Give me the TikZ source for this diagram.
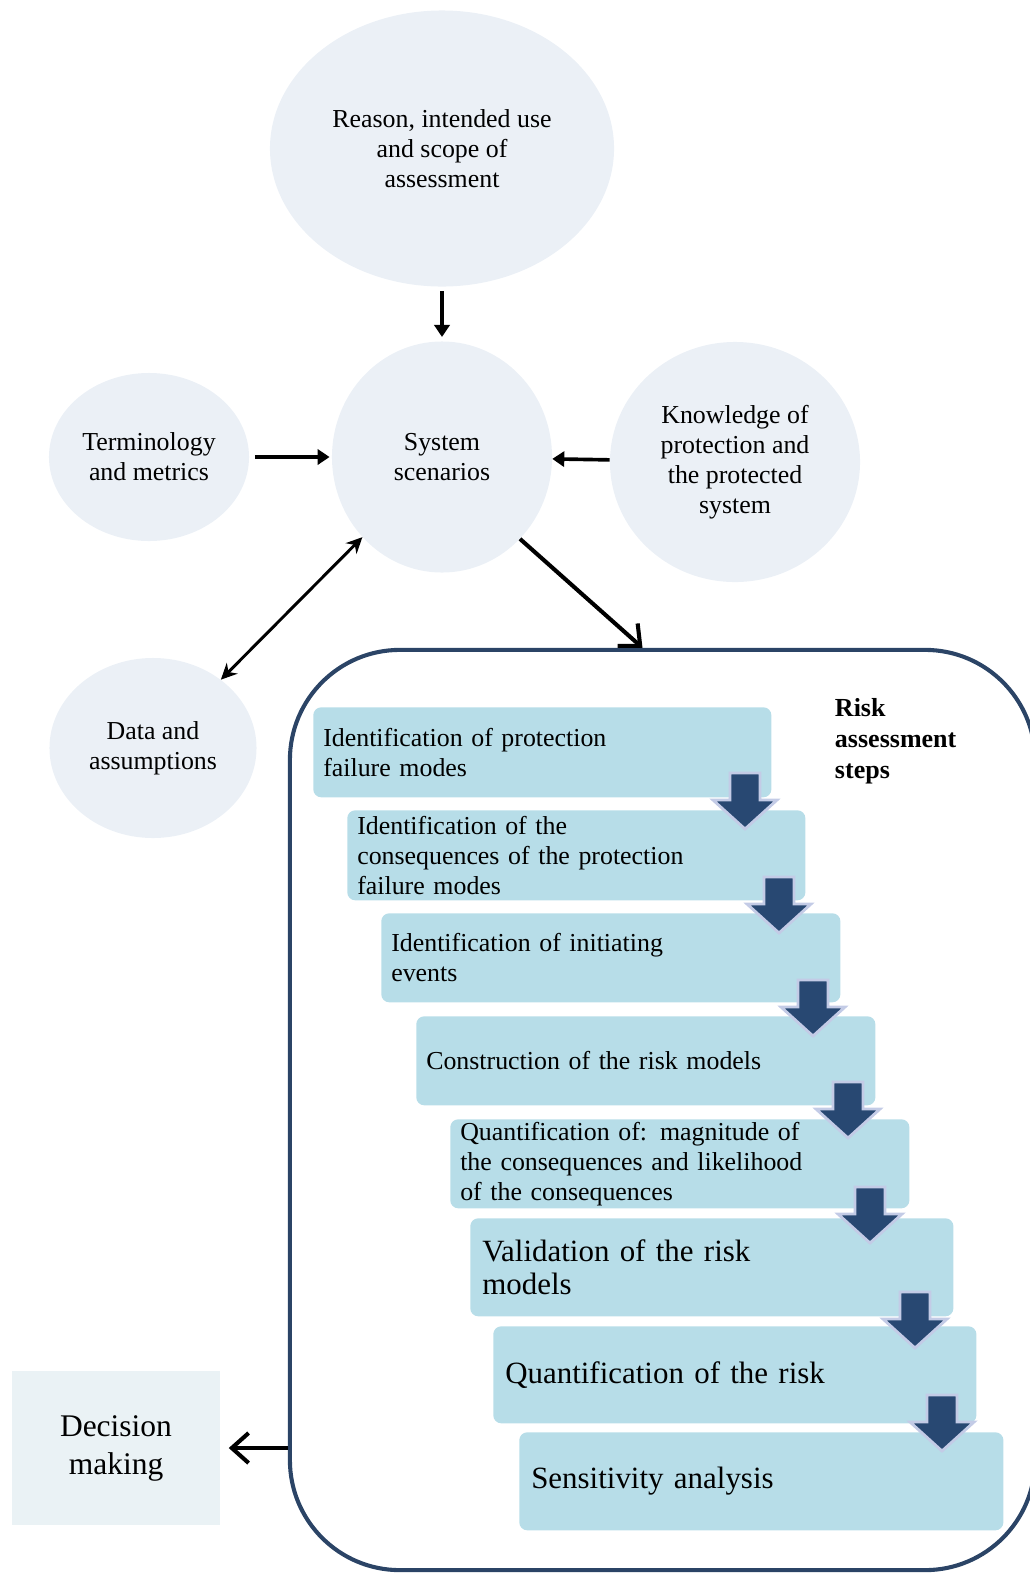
\documentclass[tikz,border=0pt]{standalone}
\usepackage{fontspec}
\setmainfont{Liberation Serif}
\usetikzlibrary{shapes.geometric,arrows.meta,calc}

\definecolor{bubblefill}{HTML}{EBF0F6}
\definecolor{decisionfill}{HTML}{EAF2F5}
\definecolor{stepfill}{HTML}{B7DDE8}
\definecolor{framecol}{HTML}{2B4466}
\definecolor{arrowblue}{HTML}{284872}
\definecolor{arrowedge}{HTML}{C3CBE6}

\newcommand{\bubblefont}{\fontsize{18.4pt}{21.3pt}\selectfont}
\newcommand{\bigstepfont}{\fontsize{22pt}{23.5pt}\selectfont}
\newcommand{\decisionfont}{\fontsize{22.4pt}{27pt}\selectfont}
\newcommand{\headerfont}{\fontsize{18.5pt}{22pt}\selectfont\bfseries}

\tikzset{
  bubble/.style={ellipse, fill=bubblefill, align=center, inner sep=0pt, font=\bubblefont},
  stepbox/.style={rectangle, rounded corners=0.2cm, fill=stepfill, anchor=north west,
    align=left, inner xsep=0.25cm, inner ysep=0pt, font=\bubblefont},
  bigstep/.style={stepbox, inner xsep=0.3cm, font=\bigstepfont},
  flow/.style={-{Triangle[length=0.3cm,width=0.38cm]}, line width=2.6pt},
  twoway/.style={{Stealth[length=0.4cm,width=0.38cm]}-{Stealth[length=0.4cm,width=0.38cm]}, line width=2.1pt},
  barb/.style={-{Straight Barb[length=0.42cm,width=0.75cm]}, line width=2.9pt},
  stepdown/.pic={
    \path[fill=arrowblue, draw=arrowedge, line width=2pt, line join=miter]
      (-15,0) -- (15,0) -- (15,27) -- (32,27) -- (0,56) -- (-32,27) -- (-15,27) -- cycle;
  }
}

\begin{document}
\begin{tikzpicture}[x=0.025cm, y=-0.025cm]
  \useasboundingbox (0,0) rectangle (1030,1573);

  % inputs round the system
  \node[bubble, minimum width=8.6cm, minimum height=6.9cm] (reason) at (442,148.5)
    {Reason, intended use\\and scope of\\assessment};
  \node[bubble, minimum width=5.5cm, minimum height=5.775cm] (system) at (442,457)
    {System\\scenarios};
  \node[bubble, minimum width=5cm, minimum height=4.2cm] (terms) at (149,457)
    {Terminology\\and metrics};
  \node[bubble, minimum width=6.25cm, minimum height=6cm] (knowledge) at (735,462)
    {Knowledge of\\protection and\\the protected\\system};
  \node[bubble, minimum width=5.175cm, minimum height=4.5cm] (data) at (153,748)
    {Data and\\assumptions};
  \node[rectangle, fill=decisionfill, minimum width=5.2cm, minimum height=3.85cm,
    align=center, font=\decisionfont] (decision) at (116,1448) {Decision\\making};

  % risk assessment frame
  \node[rectangle, draw=framecol, line width=2.9pt, rounded corners=2.75cm,
    minimum width=18.625cm, minimum height=23cm] (frame) at (662.5,1110) {};
  \node[anchor=west, align=left, font=\headerfont] (header) at (830,741)
    {Risk\\assessment\\steps};

  \node[stepbox, text width=10.95cm, minimum height=2.25cm] (s1) at (313,707)
    {Identification of protection\\failure modes};
  \node[stepbox, text width=10.95cm, minimum height=2.25cm] (s2) at (347,810)
    {Identification of the\\consequences of the protection\\failure modes};
  \node[stepbox, text width=10.975cm, minimum height=2.225cm] (s3) at (381,913)
    {Identification of initiating\\events};
  \node[stepbox, text width=10.975cm, minimum height=2.225cm] (s4) at (416,1016)
    {Construction of the risk models};
  \node[stepbox, text width=10.975cm, minimum height=2.225cm] (s5) at (450,1119)
    {Quantification of: magnitude of\\the consequences and likelihood\\of the consequences};
  \node[bigstep, text width=11.475cm, minimum height=2.45cm] (s6) at (470,1218)
    {Validation of the risk\\models};
  \node[bigstep, text width=11.475cm, minimum height=2.425cm] (s7) at (493,1326)
    {Quantification of the risk};
  \node[bigstep, text width=11.5cm, minimum height=2.45cm] (s8) at (519,1432)
    {Sensitivity analysis};

  \foreach \ax/\ay in {745/773, 779/877, 813/980, 848/1082, 870/1187, 915/1292, 942/1395}
    \pic at (\ax,\ay) {stepdown};

  % connectors
  \draw[flow, shorten <=3pt, shorten >=3pt] (reason) -- (system);
  \draw[flow, shorten <=4pt, shorten >=1.5pt] (terms) -- (system);
  \draw[flow] (knowledge) -- (system);
  \draw[twoway] (system) -- (data);
  \draw[barb] (system.south east) -- ($(frame.north)+(-20,0)$);
  \draw[barb, shorten >=6pt] (frame.west |- decision.east) -- (decision.east);
\end{tikzpicture}
\end{document}
